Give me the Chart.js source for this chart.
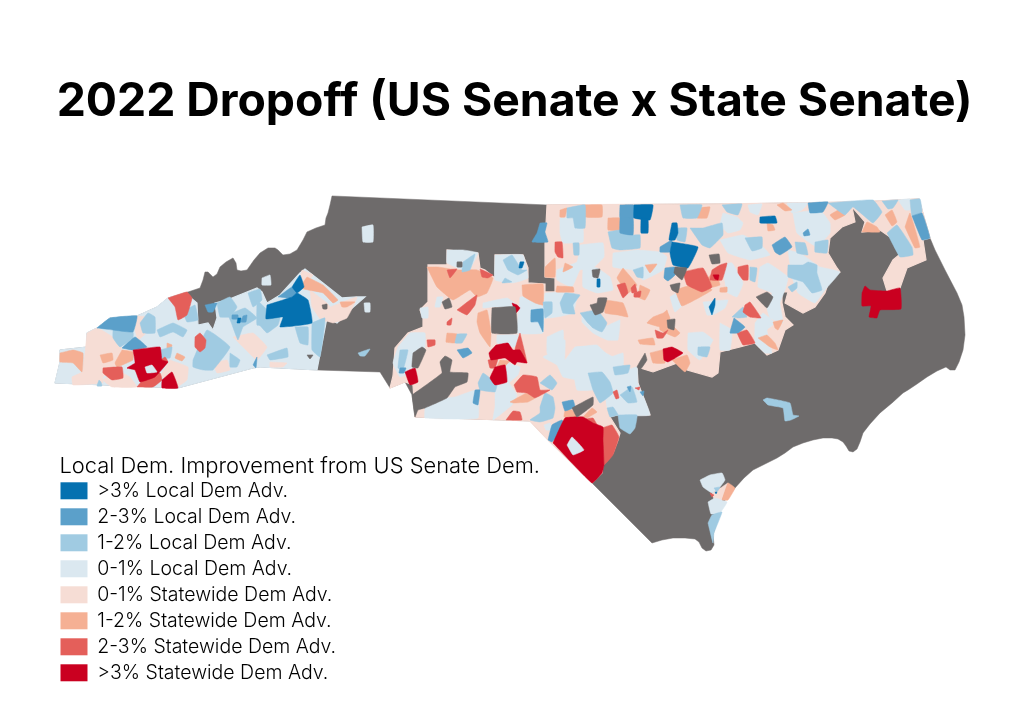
<!DOCTYPE html>
<html>
<head>
<meta charset="utf-8">
<style>
  body { margin: 0; background: #fff; }
  #wrap { width: 1024px; height: 724px; }
</style>
<script src="https://cdn.jsdelivr.net/npm/chart.js@4"></script>
</head>
<body>
<div id="wrap"><canvas id="myChart" width="1024" height="724"></canvas></div>
<script>
const chartTitle = "2022 Dropoff (US Senate x State Senate)";
const legendTitle = "Local Dem. Improvement from US Senate Dem.";
const legendLabels = [
	">3% Local Dem Adv.",
	"2-3% Local Dem Adv.",
	"1-2% Local Dem Adv.",
	"0-1% Local Dem Adv.",
	"0-1% Statewide Dem Adv.",
	"1-2% Statewide Dem Adv.",
	"2-3% Statewide Dem Adv.",
	">3% Statewide Dem Adv.",
];

// district outlines as flat x,y lists
const stateOutline = [332,196,547,205,727,204,860,202,919,199,922,210,930,238,935,250,945,270,957,293,962,305,964,317,965,335,963,350,959,362,955,370,950,370,946,367,937,371,927,377,917,384,908,390,903,393,892,403,880,413,870,424,863,433,860,442,857,449,853,452,849,451,846,446,843,442,838,439,832,438,823,438,813,440,803,443,793,447,785,453,777,458,765,464,753,470,744,478,735,488,728,496,723,503,718,518,713,535,714,545,711,550,706,551,702,548,699,542,695,539,685,538,673,538,662,540,652,543,592,483,548,440,530,421,415,417,412,395,405,382,390,388,380,372,317,370,260,367,253,368,178,388,55,383,60,362,60,350,87,347,87,333,97,328,110,318,137,316,157,307,168,298,188,292,200,288,203,280,205,272,208,272,213,277,217,274,220,267,226,262,233,258,236,263,237,270,241,271,247,270,254,260,260,253,268,248,275,248,278,250,283,255,290,254,297,250,303,240,307,232,316,228,325,225,326,218,328,213,330,205];
const westBase = [185,293,197,303,198,325,208,323,213,330,217,318,215,303,227,300,257,288,262,292,267,303,280,295,300,273,305,269,323,283,342,298,357,297,365,297,350,310,337,323,327,318,317,370,260,367,253,368,178,388,55,383,60,362,60,350,87,347,87,333,97,328,110,318,137,316,157,307,168,298];
const centralBase = [547,205,727,204,860,202,919,199,930,238,923,240,926,260,907,268,900,288,887,291,883,278,893,260,899,255,898,247,890,237,880,230,862,232,865,222,852,207,855,222,842,227,830,238,828,253,837,268,840,272,830,278,825,293,815,307,803,313,785,303,788,292,782,292,782,303,785,317,793,325,785,330,778,350,767,355,755,343,740,347,720,352,718,373,712,377,687,370,680,362,653,372,637,367,638,383,650,415,617,415,610,417,620,433,618,440,613,453,603,465,602,473,592,483,548,440,530,421,415,417,413,385,405,382,390,388,393,376,395,348,408,333,423,327,423,318,420,310,428,302,428,265,447,265,447,250,478,253,480,268,485,270,495,278,495,255,523,255,528,268,528,283,545,284,545,292,555,292,555,278,545,277,545,243];

const state0to1 = [
	[87,333,98,328,120,342,122,350,133,350,125,363,103,377,103,383,73,385,72,377,82,372,85,353],
	[170,360,188,367,187,380,177,387,172,378,160,377],
	[117,370,130,377,137,387,112,387,103,380],
	[137,316,147,317,147,332,138,340,135,330],
	[233,337,253,333,267,347,257,360,243,347],
	[213,363,227,360,230,370,217,373],
	[270,362,287,363,283,367,270,367],
	[302,270,313,275,303,288,298,287],
	[310,290,327,303,337,317,323,322,312,307],
	[323,310,357,297,347,318,333,323,320,318],
	[593,405,607,417,610,423,603,427,593,423,588,415],
	[712,493,722,487,728,483,722,500,715,502],
];
const local0to1 = [
	[560,218,573,218,583,228,583,242,563,243,560,233],
	[580,245,603,243,604,257,593,268,580,270,572,287,557,280,557,270,577,262],
	[613,253,637,250,660,252,667,257,663,270,643,280,632,270,613,267],
	[583,265,597,268,610,277,613,290,597,293,583,287],
	[545,293,563,292,577,295,573,313,557,317,543,318],
	[520,297,530,297,543,307,543,333,517,333],
	[483,303,507,298,517,305,512,307,493,307,483,308],
	[582,313,600,313,603,327,613,323,620,320,618,340,607,340,593,333,582,322],
	[497,335,518,335,515,347,497,343],
	[420,308,428,307,428,318,422,318],
	[437,297,443,297,440,307,435,307],
	[553,340,565,340,565,360,575,347,593,347,613,357,613,365,590,372,580,380,563,377,557,365,543,357,553,352],
	[425,408,447,398,455,397,477,390,478,418,425,418],
	[495,385,508,382,517,395,512,405,493,420,495,407],
	[507,363,520,367,518,375,508,383,505,373],
	[613,375,637,367,638,383,650,415,617,415,607,407,605,393,600,385],
	[720,240,743,235,763,247,770,255,750,260,728,253],
	[793,213,820,210,830,223,830,233,817,247,797,233],
	[760,267,768,263,788,277,785,290,780,303,783,323,770,318,767,308,772,293,758,287],
	[788,250,800,253,817,265,820,267,840,272,825,290,815,303,798,293,792,277],
	[720,265,732,263,743,283,737,297,727,292,723,270],
	[755,323,763,313,775,323,767,330,772,353,765,353,755,343],
	[703,302,728,300,725,308,713,315,707,315],
	[688,333,703,332,713,340,700,360,688,350],
	[720,323,732,330,730,350,720,350],
	[670,297,677,293,687,300,675,312],
	[723,213,737,217,743,223,740,230,728,233,720,225],
	[748,205,762,204,758,215,750,212],
	[787,203,808,203,802,210,792,213],
	[898,200,910,199,910,210,905,210],
	[577,347,597,345,610,357,623,353,623,370,613,380,593,390,577,390,573,367],
	[547,337,563,330,563,353,553,360,547,353],
	[447,250,463,250,478,253,468,272,458,268,447,263],
	[495,255,523,255,528,278,513,283,495,280],
	[398,347,410,333,425,333,425,347,417,365,412,372,400,377,393,363],
	[362,227,373,225,373,242,363,242],
	[262,278,270,275,271,285,262,285],
	[364,303,370,303,370,312,365,312],
	[544,425,550,423,552,430,546,430],
	[700,480,710,475,722,473,725,480,720,487,712,493,703,487],
	[708,502,715,498,727,502,720,513,711,514],
];
const state1to2 = [
	[60,353,73,350,83,353,82,372,73,363,60,362],
	[122,350,133,352,133,360,117,367,115,363],
	[100,355,112,353,113,360,103,363],
	[177,353,185,357,182,361,175,358],
	[167,343,172,345,170,352,167,350],
	[307,277,323,285,338,300,333,303,323,293,300,288],
	[340,302,355,302,347,307,342,307],
	[585,205,602,205,602,217,585,217],
	[560,210,567,208,565,217,560,217],
	[608,218,620,218,620,230,608,230],
	[545,267,555,258,555,277,545,277],
	[565,263,573,267,563,272],
	[557,286,573,287,574,292,556,292],
	[427,267,438,267,457,270,477,270,493,278,487,293,477,297,470,290,453,300,437,287],
	[522,285,543,284,543,305,535,303,523,296],
	[478,313,487,310,491,332,490,347,480,333,477,322],
	[447,333,457,334,455,343,446,342],
	[605,300,623,303,628,317,618,315,605,313],
	[623,268,637,285,628,293,617,278],
	[640,285,650,290,645,300,638,297],
	[645,265,657,264,650,273],
	[653,317,667,312,670,318,665,328,647,323],
	[638,340,653,338,655,345,640,344],
	[650,353,663,350,665,363,653,363],
	[660,317,667,310,670,323,680,333,675,337,660,330],
	[672,360,687,355,690,363,685,372],
	[675,290,702,282,712,290,682,306],
	[698,208,710,207,707,218,697,218],
	[777,205,783,203,792,210,785,211],
	[838,210,845,215,835,220,830,215],
	[862,232,867,222,877,227,880,232],
	[885,215,892,210,897,222,892,226],
	[905,227,910,213,920,247,915,248],
	[767,223,773,225,775,230,768,231],
	[758,338,767,335,775,343,778,350,770,347],
	[773,322,783,320,778,330,775,328],
	[510,402,527,393,535,398,528,402,513,403],
	[583,417,592,408,597,412,587,418],
	[565,410,572,410,577,417,564,417],
	[500,360,510,361,505,366,497,367],
	[705,280,715,272,720,285,708,288],
	[720,288,727,287,727,292,720,292],
	[722,500,728,483,735,488,728,500],
];
const local1to2 = [
	[113,330,133,332,133,338,120,347,113,338],
	[140,323,148,313,155,317,155,333,143,333],
	[157,330,173,323,187,330,183,337,173,332,160,337],
	[160,350,172,347,170,358,160,358],
	[183,312,195,305,198,320,187,322],
	[193,360,207,330,230,347,213,370,203,370,193,367],
	[230,353,240,360,237,367,230,367],
	[217,303,230,297,237,307,230,317,220,317],
	[248,293,260,289,262,300,253,307],
	[257,300,267,310,265,325,257,325],
	[257,322,280,317,278,325,267,333],
	[295,327,308,327,308,345,300,343],
	[312,323,325,318,320,357,312,350],
	[267,355,287,348,288,357,270,360],
	[228,315,245,308,257,318,243,327,238,340,231,322],
	[99,380,101,382,102,386,97,386],
	[358,353,370,349,365,356,360,356],
	[567,208,585,205,585,228,575,228,573,218,567,218],
	[608,232,620,230,633,235,640,235,640,248,620,250,612,248],
	[573,243,579,243,579,255,574,255],
	[560,303,565,293,580,295,573,305,575,314,563,313],
	[543,302,552,302,552,313,545,318],
	[580,313,597,310,607,323,602,332,593,328,587,322],
	[633,270,643,267,643,278,637,277],
	[457,334,467,334,462,343,455,343],
	[478,383,483,373,490,378,497,385,495,392,480,390],
	[540,407,545,393,553,397,555,408,553,418,540,422,530,420,540,413],
	[540,383,550,375,557,383,552,390],
	[588,373,602,372,610,382,613,393,600,403,593,390],
	[613,367,630,365,628,373,615,375],
	[620,395,632,387,637,402,628,403],
	[607,408,613,407,618,415,610,417],
	[618,415,637,415,635,428,630,434,620,428],
	[680,205,702,205,697,218,683,218],
	[722,205,742,204,738,215,727,212],
	[828,203,873,200,882,212,873,223,853,207,845,215],
	[882,201,898,200,893,208,888,209],
	[910,200,920,199,922,212,912,216],
	[887,233,897,225,912,247,913,255,900,257],
	[690,228,703,228,722,223,723,235,710,248,702,245],
	[677,228,687,228,685,242,677,240],
	[745,238,762,237,762,248,752,251],
	[795,242,805,243,808,255,797,253],
	[815,242,828,240,827,253,815,252],
	[788,265,803,265,808,262,817,265,817,273,822,290,812,293,803,282,788,277],
	[788,287,797,282,797,288,792,292],
	[750,267,757,268,755,282,750,280],
	[732,317,743,307,747,317,738,318],
	[698,347,710,347,707,357,698,355],
	[503,260,512,255,522,270,527,270,518,275,508,270],
	[505,278,512,282,502,283],
	[463,262,475,254,470,270,462,272],
	[400,350,408,350,403,370,398,368],
	[763,400,767,398,790,403,793,415,799,416,791,420,785,421,783,408,768,405],
	[708,523,712,515,722,512,714,533,713,543],
	[714,488,720,487,717,492],
];
const state2to3 = [
	[168,298,187,292,192,298,187,315,178,320,175,307],
	[195,337,200,333,206,340,205,348,200,352,195,347],
	[103,368,122,367,123,378,112,380,103,373],
	[137,387,147,375,160,373,162,380,153,387],
	[157,372,168,362,165,357,155,365],
	[555,242,562,242,563,258,558,257,555,252],
	[447,270,457,269,450,278],
	[480,269,493,275,488,278,482,277],
	[457,310,470,300,477,295,475,305,467,315],
	[447,322,452,318,451,325,447,325],
	[514,385,523,375,537,377,540,390,550,390,535,398,527,393,517,392],
	[506,420,513,411,520,412,522,420],
	[520,333,527,363,515,350],
	[488,360,498,358,495,368,490,368],
	[602,428,612,425,619,437,613,455,604,465,603,447],
	[587,467,593,462,599,472,592,483],
	[585,419,593,418,597,425,590,425],
	[613,392,617,390,619,398,616,399],
	[617,285,625,283,628,293,623,298],
	[634,293,641,291,640,297,634,297],
	[635,388,640,387,639,390],
	[655,330,663,333,668,330,663,338,657,338],
	[683,272,703,268,712,287,702,292,687,285],
	[712,270,720,265,727,263,722,280,710,280],
	[738,267,748,265,748,280,743,280,738,273],
	[745,305,750,302,761,318,750,317,743,312],
	[737,333,747,330,755,343,743,345],
	[427,340,435,340,435,345,428,347],
	[631,288,635,284,637,292,632,293],
	[710,493,714,495,712,497],
];
const local2to3 = [
	[97,328,110,318,137,316,133,332,113,330],
	[122,348,135,337,147,347,132,350],
	[205,305,217,303,213,312,208,312],
	[278,297,292,287,297,293,290,298],
	[253,365,257,357,256,368],
	[232,315,238,315,238,319,232,319],
	[243,316,247,315,246,322,241,322],
	[620,205,634,205,634,218,620,218],
	[620,218,633,218,633,235,620,233],
	[540,223,547,223,545,232,548,242,532,242,537,233],
	[660,247,672,240,670,252,660,252],
	[665,268,675,267,675,275,668,281,664,278],
	[531,310,543,309,543,332,538,322,531,322],
	[457,350,468,348,472,353,463,358],
	[475,390,480,390,478,405,473,403],
	[548,440,552,425,562,420,565,427,552,442],
	[562,402,573,400,575,407,565,411],
	[772,245,785,237,792,247,780,255,775,252],
	[808,203,828,202,823,212,810,213],
	[912,216,922,213,930,238,922,240],
	[803,233,808,229,810,235,804,236],
	[734,318,745,327,738,333,730,333],
	[400,368,406,368,404,373,399,373],
	[627,387,631,386,630,392],
	[640,392,644,391,643,396],
];
const state3plus = [
	[133,350,160,347,162,360,168,362,155,377,140,382,135,370,127,368,135,363],
	[162,380,172,372,178,388,162,388],
	[496,345,508,343,513,350,520,350,527,363,517,362,515,365,505,358,491,360,489,353],
	[495,367,505,365,507,382,495,385,490,378],
	[512,303,517,305,520,308,516,313],
	[553,443,565,418,583,417,593,423,603,427,603,440,604,465,602,473,592,483],
	[405,372,415,368,418,382,410,385],
	[663,349,672,347,683,353,668,362,664,360],
	[713,275,719,275,718,280,715,279],
	[862,293,865,286,870,290,887,291,900,288,901,309,880,310,877,318,875,318,869,317,871,306,862,306],
];
const local3plus = [
	[267,305,292,297,297,293,308,300,312,323,280,327,283,317,266,319],
	[292,287,300,275,304,287,297,293],
	[634,205,653,205,650,220,634,218],
	[641,218,648,219,648,233,641,233],
	[672,242,698,247,688,268,673,265,670,253],
	[672,223,677,223,678,233,675,240,669,240],
	[760,217,775,216,777,223,760,223],
	[709,307,715,298,715,305,712,315],
	[238,318,241,318,240,323,237,323],
	[520,262,524,262,522,268,519,268],
	[597,279,600,279,600,287,597,287],
	[715,492,717,492,716,494],
];
const noData = [
	[322,305,327,304,327,309,323,309],
	[307,355,313,355,310,359],
	[492,308,515,307,517,333,492,333],
	[442,302,449,298,452,307,445,309],
	[590,305,597,303,598,298,607,298,603,312,595,315],
	[592,270,600,269,598,278,593,277],
	[670,285,680,283,678,293,672,290],
	[667,320,675,319,674,330,668,328],
	[709,255,719,254,720,263,712,264],
	[675,267,687,268,682,280,674,273],
	[756,297,767,292,773,297,767,308],
	[572,408,593,397,593,405,577,417],
	[645,353,637,367,640,370,647,360],
	[413,353,422,347,426,350,418,368,412,367],
	[412,395,442,373,440,362,445,356,452,360,450,372,468,373,467,382,455,387,447,398,425,408,418,410,415,417],
	[457,262,462,262,462,267,457,267],
];
const local0to1Top = [
	[567,445,572,437,584,450,573,455],
	[145,367,152,365,157,372,147,373],
];

const legendColors = ["#0571b0", "#5ba0ca", "#a0cbe2", "#dbe8f0", "#f6ddd5", "#f5b094", "#e45f5a", "#ca0020"];
const noDataColor = "#6e6b6b";

// bottom to top, small districts sit over the two big base areas
const layers = [
	[noDataColor, [stateOutline]],
	[legendColors[4], [centralBase]],
	[legendColors[3], [westBase]],
	[legendColors[4], state0to1],
	[legendColors[3], local0to1],
	[legendColors[5], state1to2],
	[legendColors[2], local1to2],
	[legendColors[6], state2to3],
	[legendColors[1], local2to3],
	[legendColors[7], state3plus],
	[legendColors[0], local3plus],
	[noDataColor, noData],
	[legendColors[3], local0to1Top],
];

function toPoints(flat) {
	const pts = [];
	for (let i = 0; i < flat.length; i += 2) {
		pts.push({ x: flat[i], y: flat[i + 1] });
	}
	pts.push({ x: flat[0], y: flat[1] });
	return pts;
}

const datasets = [];
layers.forEach(function (layer, n) {
	layer[1].forEach(function (flat) {
		datasets.push({
			data: toPoints(flat),
			backgroundColor: layer[0],
			borderColor: layer[0],
			// base areas a bit wider so the grey state does not show along the border
			borderWidth: n == 1 || n == 2 ? 1.2 : 0.5,
			pointRadius: 0,
			tension: n < 3 ? 0 : 0.1,
			fill: "shape",
		});
	});
});
// first dataset is drawn last in Chart.js
datasets.reverse();

const AREA_LEFT = 54;
const AREA_RIGHT = 975;
const AREA_TOP = 130;
const AREA_BOTTOM = 689;
const LEGEND_TITLE_END = 540;

// a chartArea legend is laid out from y=0, move it down below the title
const legendShift = {
	id: "legendShift",
	afterLayout: function (chart) {
		chart.legend.top += AREA_TOP;
		chart.legend.bottom += AREA_TOP;
		chart.legend.width = LEGEND_TITLE_END - chart.legend.left;
	},
};

new Chart(document.getElementById("myChart"), {
	type: "line",
	data: { datasets: datasets },
	plugins: [legendShift],
	options: {
		responsive: false,
		animation: false,
		devicePixelRatio: 1,
		layout: { padding: { left: AREA_LEFT, right: 1024 - AREA_RIGHT, bottom: 724 - AREA_BOTTOM } },
		scales: {
			x: { type: "linear", min: AREA_LEFT, max: AREA_RIGHT, display: false },
			y: { type: "linear", min: AREA_TOP, max: AREA_BOTTOM, reverse: true, display: false },
		},
		plugins: {
			tooltip: { enabled: false },
			title: {
				display: true,
				text: chartTitle,
				color: "#000",
				font: { family: "Inter", size: 46.3, weight: "700", lineHeight: 1.2 },
				padding: { top: 74.4, bottom: 0 },
			},
			legend: {
				position: "chartArea",
				align: "end",
				title: {
					display: true,
					text: legendTitle,
					position: "end",
					color: "#000",
					font: { family: "Inter", size: 21.9, weight: "300" },
					padding: { top: 0, bottom: -7 },
				},
				labels: {
					boxWidth: 27,
					boxHeight: 17,
					padding: 6.5,
					color: "#000",
					font: { family: "Inter", size: 19.5, weight: "300" },
					generateLabels: function () {
						return legendLabels.map(function (text, i) {
							return { text: text, fillStyle: legendColors[i], strokeStyle: legendColors[i], lineWidth: 0, hidden: false };
						});
					},
				},
			},
		},
	},
});
</script>
</body>
</html>
